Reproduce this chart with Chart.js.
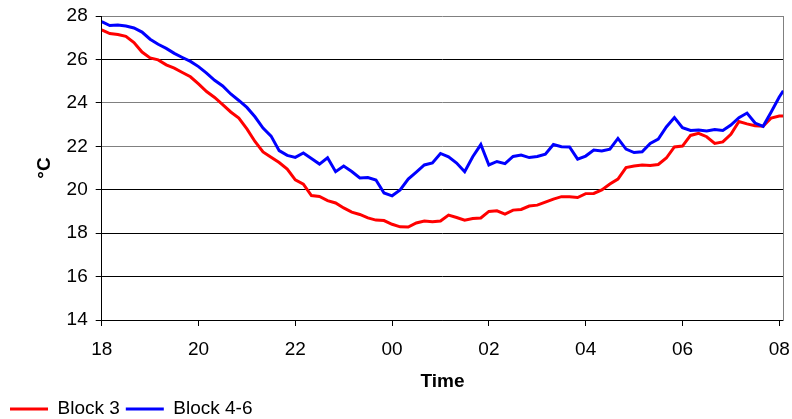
<!DOCTYPE html>
<html>
<head>
<meta charset="utf-8">
<script src="https://cdn.jsdelivr.net/npm/chart.js@4.4.0/dist/chart.umd.min.js"></script>
<style>
  html, body { margin: 0; padding: 0; background: #ffffff; }
  #wrap { width: 792px; height: 419px; }
</style>
</head>
<body>
<div id="wrap"><canvas id="c" width="792" height="419"></canvas></div>
<script>
// Sample times (10-minute logging from 18:00 to 08:05 the next morning)
const times = [
  "18:00","18:10","18:20","18:30","18:40","18:50",
  "19:00","19:10","19:20","19:30","19:40","19:50",
  "20:00","20:10","20:20","20:30","20:40","20:50",
  "21:00","21:10","21:20","21:30","21:40","21:50",
  "22:00","22:10","22:20","22:30","22:40","22:50",
  "23:00","23:10","23:20","23:30","23:40","23:50",
  "00:00","00:10","00:20","00:30","00:40","00:50",
  "01:00","01:10","01:20","01:30","01:40","01:50",
  "02:00","02:10","02:20","02:30","02:40","02:50",
  "03:00","03:10","03:20","03:30","03:40","03:50",
  "04:00","04:10","04:20","04:30","04:40","04:50",
  "05:00","05:10","05:20","05:30","05:40","05:50",
  "06:00","06:10","06:20","06:30","06:40","06:50",
  "07:00","07:10","07:20","07:30","07:40","07:50",
  "08:00","08:05"
];

// Temperatures in °C
const block3 = [
  27.36, 27.19, 27.15, 27.06, 26.78, 26.34,
  26.07, 25.98, 25.75, 25.60, 25.40, 25.20,
  24.87, 24.52, 24.25, 23.92, 23.58, 23.30,
  22.80, 22.22, 21.74, 21.49, 21.25, 20.95,
  20.45, 20.26, 19.73, 19.69, 19.50, 19.39,
  19.16, 18.97, 18.86, 18.70, 18.60, 18.58,
  18.41, 18.29, 18.28, 18.47, 18.56, 18.52,
  18.56, 18.83, 18.72, 18.60, 18.67, 18.70,
  19.00, 19.03, 18.88, 19.06, 19.09, 19.25,
  19.29, 19.43, 19.57, 19.68, 19.68, 19.64,
  19.82, 19.83, 19.99, 20.26, 20.49, 21.02,
  21.09, 21.14, 21.11, 21.16, 21.46, 21.97,
  22.01, 22.50, 22.60, 22.44, 22.13, 22.20,
  22.55, 23.14, 23.03, 22.95, 22.92, 23.30,
  23.39, 23.39
];

const block46 = [
  27.74, 27.56, 27.59, 27.54, 27.45, 27.26,
  26.93, 26.70, 26.51, 26.28, 26.09, 25.91,
  25.67, 25.37, 25.04, 24.78, 24.41, 24.11,
  23.79, 23.36, 22.84, 22.47, 21.80, 21.58,
  21.49, 21.69, 21.44, 21.18, 21.47, 20.83,
  21.09, 20.84, 20.54, 20.56, 20.45, 19.85,
  19.72, 19.99, 20.49, 20.81, 21.14, 21.23,
  21.67, 21.51, 21.23, 20.83, 21.52, 22.08,
  21.14, 21.30, 21.20, 21.53, 21.60, 21.48,
  21.53, 21.64, 22.08, 21.98, 21.97, 21.41,
  21.55, 21.83, 21.78, 21.87, 22.36, 21.87,
  21.71, 21.75, 22.13, 22.33, 22.89, 23.32,
  22.86, 22.73, 22.75, 22.70, 22.77, 22.73,
  22.98, 23.32, 23.53, 23.07, 22.92, 23.58,
  24.27, 24.56
];

// Axis tick labels
const hourLabels = ["18", "20", "22", "00", "02", "04", "06", "08"];
const tempTicks = [14, 16, 18, 20, 22, 24, 26, 28];
const greyGridTemps = [22, 24, 28];

// Hours elapsed since 18:00
function toHours(t) {
  const [h, m] = t.split(":").map(Number);
  return ((h - 18 + 24) % 24) + m / 60;
}
const xs = times.map(toHours);
const pts = vals => vals.map((v, i) => ({ x: xs[i], y: v }));

Chart.defaults.font.family = "'Liberation Sans', Arial, sans-serif";
Chart.defaults.color = "#000000";

new Chart(document.getElementById("c"), {
  type: "line",
  data: {
    datasets: [
      {
        label: "Block 3",
        data: pts(block3),
        borderColor: "#ff0000",
        backgroundColor: "#ff0000",
        borderWidth: 3,
        pointRadius: 0,
        tension: 0,
        order: 1
      },
      {
        label: "Block 4-6",
        data: pts(block46),
        borderColor: "#0000ff",
        backgroundColor: "#0000ff",
        borderWidth: 3,
        pointRadius: 0,
        tension: 0,
        order: 0
      }
    ]
  },
  options: {
    responsive: false,
    animation: false,
    layout: { padding: { left: 4, right: 8.7, top: 16, bottom: -9.5 } },
    plugins: {
      tooltip: { enabled: false },
      legend: {
        display: true,
        position: "bottom",
        align: "start",
        labels: {
          usePointStyle: true,
          pointStyle: "line",
          pointStyleWidth: 38,
          padding: 6,
          color: "#000000",
          font: { size: 19 },
          sort: (a, b) => a.datasetIndex - b.datasetIndex
        }
      }
    },
    scales: {
      x: {
        type: "linear",
        min: 0,
        max: toHours("08:05"),
        afterFit: s => { s.height = 73.5; s.paddingLeft = 0; s.paddingRight = 0; },
        ticks: {
          stepSize: 2,
          includeBounds: false,
          autoSkip: false,
          maxRotation: 0,
          padding: 12,
          font: { size: 19 },
          color: "#000000",
          callback: v => hourLabels[Math.round(v / 2)]
        },
        grid: {
          drawOnChartArea: false,
          drawTicks: true,
          tickLength: 6,
          color: "#000000",
          tickColor: "#000000"
        },
        border: { display: true, color: "#000000", width: 1 },
        title: {
          display: true,
          text: "Time",
          font: { size: 19, weight: "bold" },
          color: "#000000",
          padding: { top: 0, bottom: 0 }
        }
      },
      y: {
        type: "linear",
        position: "left",
        min: 14,
        max: 28,
        afterFit: s => { s.width = 97.7; s.paddingTop = 0; s.paddingBottom = 0; },
        afterBuildTicks: s => { s.ticks = tempTicks.map(v => ({ value: v })); },
        ticks: {
          padding: 8,
          font: { size: 19 },
          color: "#000000"
        },
        grid: {
          drawOnChartArea: true,
          tickLength: 6,
          lineWidth: 1,
          color: ctx => greyGridTemps.includes(ctx.tick && ctx.tick.value) ? "#808080" : "#000000",
          tickColor: "#000000"
        },
        border: { display: true, color: "#000000", width: 1 },
        title: {
          display: true,
          text: "°C",
          font: { size: 19, weight: "bold" },
          color: "#000000",
          padding: { top: 29.6, bottom: 0 }
        }
      },
      frame: {
        type: "linear",
        position: "right",
        display: true,
        afterFit: s => { s.width = 0; s.paddingTop = 0; s.paddingBottom = 0; },
        ticks: { display: false },
        grid: { display: false, drawTicks: false },
        border: { display: true, color: "#808080", width: 1 }
      }
    }
  }
});
</script>
</body>
</html>
